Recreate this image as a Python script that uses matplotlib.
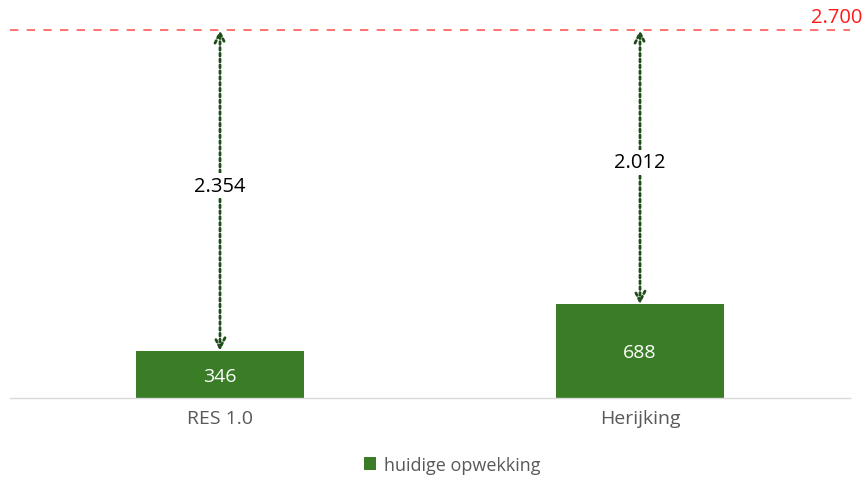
import matplotlib.pyplot as plt
from matplotlib.patches import Patch

plt.rcParams['font.family'] = ['Open Sans', 'DejaVu Sans']

# data
categories = ['RES 1.0', 'Herijking']
huidige = [346, 688]
doel = 2700
legend_label = 'huidige opwekking'

BAR = '#3b7d27'
ARROW = '#1f4d1a'
GREY = '#595959'


def nl(v):
    """duizendtal met punt, Nederlandse notatie"""
    return f'{v:,}'.replace(',', '.')


fig = plt.figure(figsize=(8.67, 4.81), dpi=100)
ax = fig.add_axes([10 / 867, 82 / 481, 840 / 867, 381.6 / 481])

x = list(range(len(categories)))
ax.bar(x, huidige, width=0.4, color=BAR, zorder=2)

for xi, v in zip(x, huidige):
    ax.text(xi, v / 2 - 10, nl(v), ha='center', va='center', color='white', fontsize=14)
    # pijl van balk naar doel
    ax.annotate('', xy=(xi, doel), xytext=(xi, v),
                arrowprops=dict(arrowstyle='<->', color=ARROW, lw=2,
                                linestyle=(0, (1, 1.1)), mutation_scale=18,
                                shrinkA=0, shrinkB=0))
    ax.text(xi, (v + doel) / 2 + 35, nl(doel - v), ha='center', va='center',
            fontsize=14.5, color='black',
            bbox=dict(facecolor='white', edgecolor='none', pad=2))

# doellijn
ax.axhline(doel, color='#ff5a5a', lw=1.2, linestyle=(0, (5, 5)), zorder=1)
ax.text(852 / 840, doel + 20, nl(doel), ha='right', va='bottom', color='#ff1a1a',
        fontsize=14.5, transform=ax.get_yaxis_transform(), clip_on=False)

ax.set_xlim(-0.5, 1.5)
ax.set_ylim(0, 2800)
ax.set_xticks(x)
ax.set_xticklabels(categories, fontsize=14, color=GREY)
ax.tick_params(axis='x', length=0, pad=8)
ax.set_yticks([])
for s in ['top', 'right', 'left']:
    ax.spines[s].set_visible(False)
ax.spines['bottom'].set_color('#d9d9d9')
ax.spines['bottom'].set_linewidth(1)

fig.legend(handles=[Patch(facecolor=BAR, label=legend_label)],
           loc='center', bbox_to_anchor=(452 / 867, 1 - 466 / 481), frameon=False,
           fontsize=13, labelcolor=GREY, handlelength=0.7, handleheight=0.7,
           handletextpad=0.4)

fig.savefig('out.png', dpi=100)
